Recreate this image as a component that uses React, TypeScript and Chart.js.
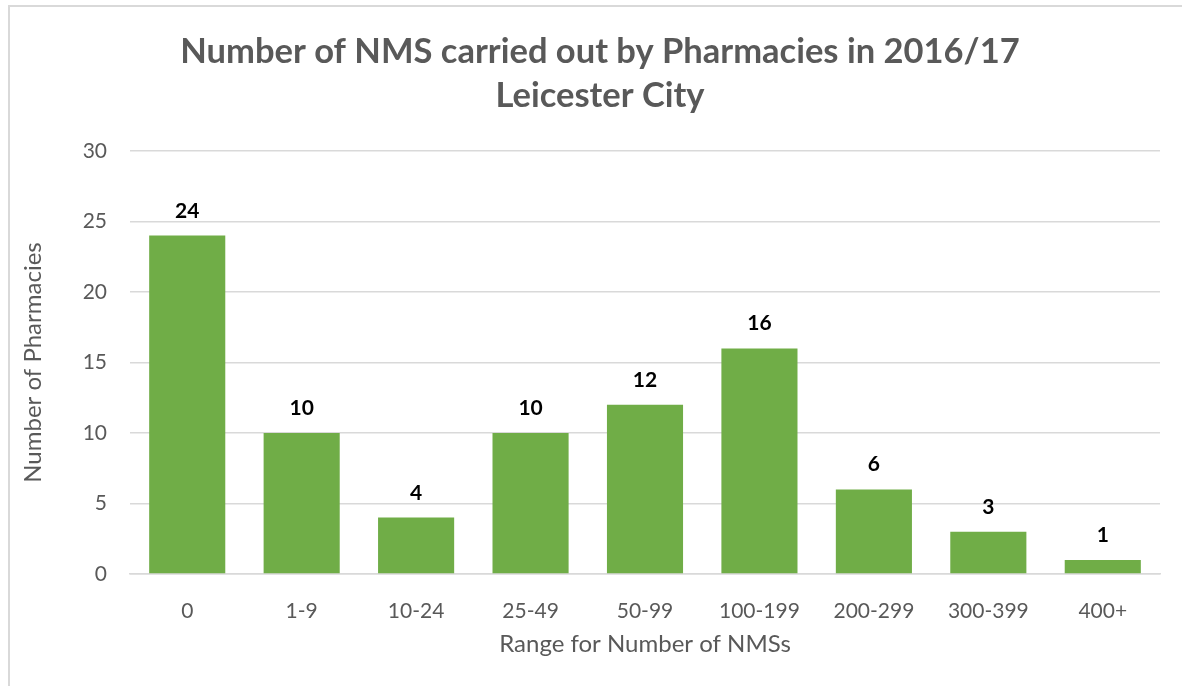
import { useEffect, useRef } from 'react';
import { Chart, registerables } from 'chart.js';

Chart.register(...registerables);

const titleLines = ['Number of NMS carried out by Pharmacies in 2016/17', 'Leicester City'];
const categories = ['0', '1-9', '10-24', '25-49', '50-99', '100-199', '200-299', '300-399', '400+'];
const pharmacies = [24, 10, 4, 10, 12, 16, 6, 3, 1];
const xTitle = 'Range for Number of NMSs';
const yTitle = 'Number of Pharmacies';
const yMax = 30;
const yStep = 5;

const FONT = 'Lato';
const GRAY = '#595959';
const GRID = '#d9d9d9';
const GREEN = '#70AD47';

const titlePlugin = {
  id: 'excelTitle',
  afterDraw(chart: any) {
    const ctx = chart.ctx;
    ctx.save();
    ctx.fillStyle = GRAY;
    ctx.font = `bold 34.5px ${FONT}`;
    ctx.textAlign = 'center';
    ctx.textBaseline = 'alphabetic';
    ctx.fillText(titleLines[0], 590, 56);
    ctx.fillText(titleLines[1], 590, 100);
    ctx.restore();
  },
};

const labelPlugin = {
  id: 'barLabels',
  afterDatasetsDraw(chart: any) {
    const ctx = chart.ctx;
    const meta = chart.getDatasetMeta(0);
    ctx.save();
    ctx.fillStyle = '#000';
    ctx.font = `bold 21px ${FONT}`;
    ctx.textAlign = 'center';
    ctx.textBaseline = 'alphabetic';
    meta.data.forEach((bar: any, i: number) => {
      ctx.fillText(String(pharmacies[i]), bar.x, bar.y - 18);
    });
    ctx.restore();
  },
};

export default function App() {
  const ref = useRef<HTMLCanvasElement>(null);
  useEffect(() => {
    const chart = new Chart(ref.current!, {
      type: 'bar',
      data: {
        labels: categories,
        datasets: [
          {
            data: pharmacies,
            backgroundColor: GREEN,
            categoryPercentage: 1,
            barPercentage: 0.665,
          },
        ],
      },
      options: {
        animation: false,
        responsive: false,
        devicePixelRatio: 1,
        layout: { padding: { top: 144, left: 0, right: 30, bottom: 0 } },
        plugins: {
          legend: { display: false },
          title: { display: false },
          tooltip: { enabled: false },
        },
        scales: {
          x: {
            grid: { display: false },
            border: { display: true, color: GRID, width: 1.5 },
            ticks: { color: GRAY, font: { family: FONT, size: 21 }, padding: 17 },
            title: {
              display: true,
              text: xTitle,
              color: GRAY,
              font: { family: FONT, size: 24 },
              padding: { top: 0, bottom: 38 },
            },
            afterFit(scale: any) {
              scale.height = 123;
            },
          },
          y: {
            min: 0,
            max: yMax,
            ticks: { stepSize: yStep, color: GRAY, font: { family: FONT, size: 21 }, padding: 23 },
            grid: { color: GRID, lineWidth: 1.5, drawTicks: false },
            border: { display: false },
            title: {
              display: true,
              text: yTitle,
              color: GRAY,
              font: { family: FONT, size: 24 },
              padding: { top: 9, bottom: 0 },
            },
            afterFit(scale: any) {
              scale.width = 120;
            },
          },
        },
      },
      plugins: [titlePlugin, labelPlugin],
    });
    return () => chart.destroy();
  }, []);
  return (
    <div style={{ position: 'fixed', inset: 0, overflow: 'hidden', background: '#fff' }}>
      <div
        style={{
          position: 'absolute',
          left: 8,
          top: 5,
          width: 1190,
          height: 700,
          border: '2px solid #d9d9d9',
          background: '#fff',
        }}
      >
        <canvas ref={ref} width={1180} height={690} style={{ display: 'block', width: 1180, height: 690 }} />
      </div>
    </div>
  );
}
